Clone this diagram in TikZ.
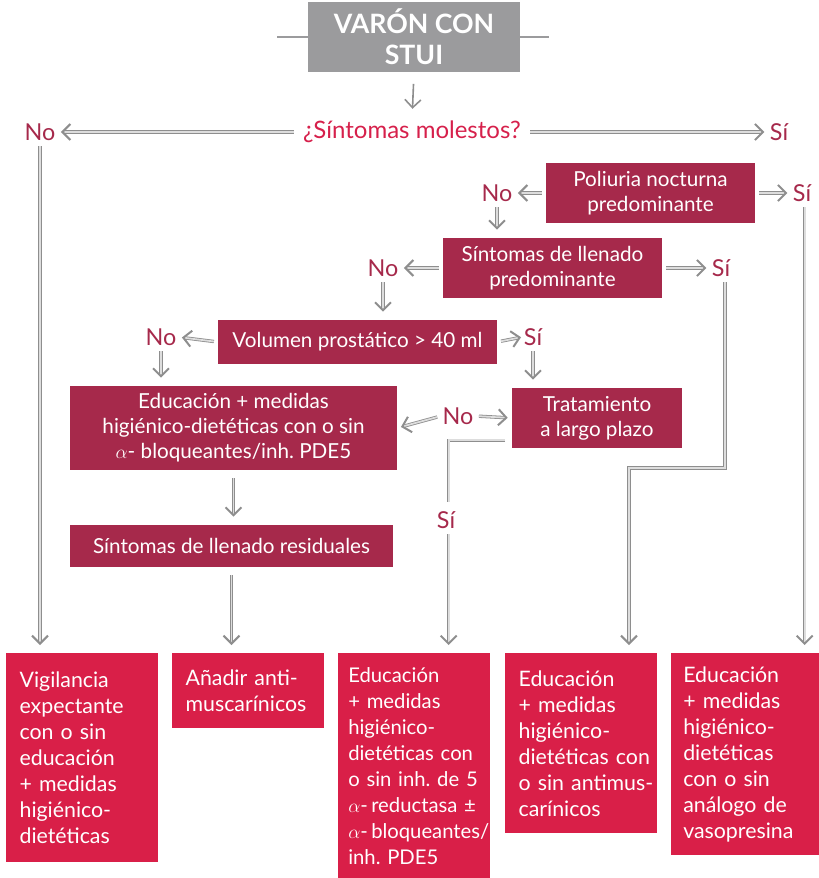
\documentclass[tikz,border=0pt]{standalone}
\usepackage{fontspec}
\setmainfont{Lato}
\usetikzlibrary{positioning,arrows.meta}
\hyphenpenalty=10000
\frenchspacing
\definecolor{boxred}{HTML}{A6294B}
\definecolor{endred}{HTML}{D91F48}
\definecolor{askred}{HTML}{D6204B}
\definecolor{headgray}{HTML}{9B9B9D}
\definecolor{linegray}{HTML}{8E8E8E}
\tikzset{
  % grey heading box and its side rules
  headbox/.style={fill=headgray, text=white, align=center, inner sep=0pt,
    minimum width=159pt, minimum height=52pt,
    font=\fontsize{20}{23}\selectfont\bfseries},
  headline/.style={draw=headgray, line width=2.2pt},
  % dark red decision boxes
  stepbox/.style={fill=boxred, text=white, align=center, inner sep=0pt,
    font=\fontsize{15.5}{18.75}\selectfont},
  % bright red boxes at the bottom
  endbox/.style={fill=endred, text=white, anchor=north west, align=left,
    text width=94pt, inner xsep=9pt, inner ysep=0pt, minimum width=114pt,
    font=\fontsize{16}{19.5}\selectfont},
  answer/.style={text=boxred, font=\fontsize{17.5}{20}\selectfont, inner sep=1pt},
  % grey double connectors
  link/.style={draw=linegray, double=linegray!30, double distance=1.3pt,
    line width=0.6pt},
  flow/.style={link, shorten <=3pt, shorten >=3pt,
    -{Straight Barb[length=6pt,width=12pt,line width=1.5pt]}},
  into/.style={flow, shorten >=6pt},
}
\begin{document}
\begin{tikzpicture}[x=0.75pt,y=-0.75pt]
            \useasboundingbox (0,0) rectangle (818,878);
            \node[headbox] (title) at (414,37) {VARÓN CON\\STUI};
            \coordinate (tl) at (277,37);
            \coordinate (tr) at (549,37);
            \node[text=askred,inner sep=0pt,font=\fontsize{18}{20}\selectfont] (q) at (412,132) {¿Síntomas molestos?};
            \node[answer] (noQ) at (40,132) {No};
            \node[answer] (siQ) at (779,132) {Sí};

            \node[stepbox,minimum width=157pt,minimum height=45pt] (pol) at (650.5,193) {Poliuria nocturna\\predominante};
            \node[answer] (noPol) at (497,193) {No};
            \node[answer] (siPol) at (802,193) {Sí};

            \node[stepbox,minimum width=164pt,minimum height=45pt] (lle) at (552.5,268) {Síntomas de llenado\\predominante};
            \node[answer] (noLle) at (383,268) {No};
            \node[answer] (siLle) at (721,268) {Sí};

            \node[stepbox,minimum width=209pt,minimum height=33pt] (vol) at (357.5,342) {Volumen prostático > 40 ml};
            \node[answer] (noVol) at (161,337) {No};
            \node[answer] (siVol) at (533,337) {Sí};

            \node[stepbox,minimum width=245pt,minimum height=63pt] (edu) at (233.5,428) {Educación + medidas\\higiénico-dietéticas con o sin\\$\alpha$- bloqueantes/inh. PDE5};
            \node[stepbox,minimum width=127.5pt,minimum height=45pt] (trat) at (597,418) {Tratamiento\\a largo plazo};
            \node[answer] (noTrat) at (458,416) {No};
            \node[stepbox,minimum width=242pt,minimum height=31.5pt] (res) at (231.5,546) {Síntomas de llenado residuales};
            \node[answer] (siTrat) at (446,520) {Sí};

            \node[endbox,minimum height=156.75pt] (b1) at (6,653) {Vigilancia\\expectante\\con~o~sin\\educación\\+~medidas\\higiénico-\\dietéticas};
            \node[endbox,minimum height=56pt] (b2) at (172,653) {Añadir~anti-\\muscarínicos};
            \node[endbox,minimum height=169pt,inner xsep=6.5pt,text width=99pt,
              font=\fontsize{15.2}{19.5}\selectfont] (b3) at (338,653) {Educación\\+~medidas\\higiénico-\\\mbox{dietéticas con}\\\mbox{o sin inh. de 5}\\\mbox{$\alpha$-\,reductasa ±}\\\mbox{$\alpha$-\,bloqueantes/}\\\mbox{inh. PDE5}};
            \node[endbox,minimum height=135pt] (b4) at (505,653) {Educación\\+~medidas\\higiénico-\\\mbox{dietéticas con}\\\mbox{o sin antimus-}\\carínicos};
            \node[endbox,minimum height=151.5pt,minimum width=110.25pt] (b5) at (671,653) {Educación\\+~medidas\\higiénico-\\dietéticas\\con~o~sin\\análogo~de\\vasopresina};

            \coordinate (k4) at (629,468);

            \path [headline] (tl) -- (title.west) (title.east) -- (tr);
            \draw [draw=linegray,line width=1.2pt,shorten <=9pt,shorten >=9pt,
              -{Straight Barb[length=6pt,width=12pt]}] (title.south) -- (q.north);

            \path [flow,shorten <=7pt]
            (q.west) -- (noQ.east);
            \path [flow,shorten <=7pt]
            (q.east) -- (siQ.west);
            \path [into] (noQ.south) -- (noQ.south |- b1.north);
            \path [flow] (pol.west) -- (noPol.east);
            \path [flow] (pol.east) -- (siPol.west);
            \path [into] ([xshift=2pt]siPol.south) -- ([xshift=2pt]siPol.south |- b5.north);
            \path [into] (noPol.south) -- (noPol.south |- lle.north);
            \path [flow] (lle.west) -- (noLle.east);
            \path [flow] (lle.east) -- (siLle.west);
            \path [into] ([xshift=3pt]siLle.south) |- (k4) -- (k4 |- b4.north);
            \path [into] (noLle.south) -- (noLle.south |- vol.north);
            \path [flow] (vol.west) -- (noVol.east);
            \path [flow,shorten >=1pt] (vol.east) -- (siVol.west);
            \path [into] (noVol.south) -- (noVol.south |- edu.north);
            \path [into] (siVol.south) -- (siVol.south |- trat.north);
            \path [flow] (noTrat.west) -- (edu.east);
            \path [flow] (noTrat.east) -- (trat.west);
            \path [link,shorten >=6pt] ([xshift=-5pt,yshift=6pt]trat.south west) -| ([xshift=2pt]siTrat.north);
            \path [into] ([xshift=2pt]siTrat.south) -- ([xshift=2pt]siTrat.south |- b3.north);
            \path [into,shorten <=6pt] (edu.south) -- (edu.south |- res.north);
            \path [into,shorten <=6pt] (res.south) -- (res.south |- b2.north);
        \end{tikzpicture}
\end{document}
